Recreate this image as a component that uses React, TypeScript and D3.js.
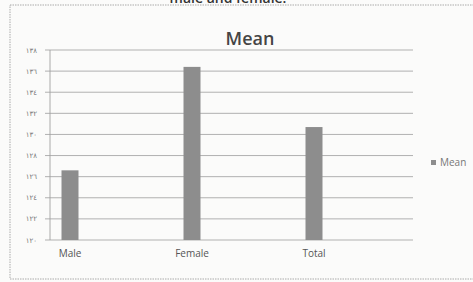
import React, { useRef, useEffect } from 'react';
import * as d3 from 'd3';

const categories = ['Male', 'Female', 'Total'];
const meanValues = [126.6, 136.4, 130.7];
const yTicks = [120, 122, 124, 126, 128, 130, 132, 134, 136, 138];
const seriesName = 'Mean';

const arabicDigits = '٠١٢٣٤٥٦٧٨٩';
const toArabic = (n: number) => String(n).replace(/[0-9]/g, d => arabicDigits[+d]);

export default function App() {
  const svgRef = useRef<SVGSVGElement>(null);

  useEffect(() => {
    const svg = d3.select(svgRef.current);
    const width = 473;
    const height = 282;
    svg.attr('viewBox', `0 0 ${width} ${height}`);
    svg.selectAll('*').remove();

    const font = "'Open Sans', 'Liberation Sans', sans-serif";
    const plot = { left: 50, right: 413, top: 50, bottom: 240 };

    svg.append('rect').attr('width', width).attr('height', height).attr('fill', '#fbfbfa');

    // cut-off caption from the page above the chart
    svg.append('text')
      .attr('x', 228).attr('y', 3)
      .attr('text-anchor', 'middle')
      .attr('font-family', font).attr('font-size', 14).attr('font-weight', 600)
      .attr('fill', '#333')
      .text('male and female.');

    // chart frame
    svg.append('rect')
      .attr('x', 10).attr('y', 5).attr('width', 480).attr('height', 274)
      .attr('fill', 'none').attr('stroke', '#aaa').attr('stroke-width', 1)
      .attr('stroke-dasharray', '1.5,1');

    svg.append('text')
      .attr('x', 250).attr('y', 45)
      .attr('text-anchor', 'middle')
      .attr('font-family', font).attr('font-size', 18).attr('font-weight', 600)
      .attr('fill', '#454545')
      .text('Mean');

    const y = d3.scaleLinear()
      .domain([120, 138])
      .range([plot.bottom, plot.top]);

    const x = d3.scalePoint<string>()
      .domain(categories)
      .range([70, 314]);

    const barWidth = 17;

    // gridlines + tick marks
    const grid = svg.append('g');
    grid.selectAll('line.grid')
      .data(yTicks)
      .join('line')
      .attr('class', 'grid')
      .attr('x1', plot.left - 5).attr('x2', plot.right)
      .attr('y1', d => y(d)).attr('y2', d => y(d))
      .attr('stroke', '#a8a8a8').attr('stroke-width', 0.9);

    svg.append('line')
      .attr('x1', plot.left).attr('x2', plot.left)
      .attr('y1', plot.top).attr('y2', plot.bottom)
      .attr('stroke', '#a0a0a0').attr('stroke-width', 0.9);

    svg.append('g').selectAll('text')
      .data(yTicks)
      .join('text')
      .attr('x', 37).attr('y', d => y(d) + 2.5)
      .attr('text-anchor', 'end')
      .attr('font-family', "'DejaVu Sans', sans-serif").attr('font-size', 7)
      .attr('fill', '#777')
      .text(d => toArabic(d));

    svg.append('g').selectAll('rect')
      .data(meanValues)
      .join('rect')
      .attr('x', (d, i) => (x(categories[i]) ?? 0) - barWidth / 2)
      .attr('width', barWidth)
      .attr('y', d => y(d))
      .attr('height', d => y(120) - y(d))
      .attr('fill', '#8d8d8d');

    svg.append('g').selectAll('text')
      .data(categories)
      .join('text')
      .attr('x', d => x(d) ?? 0).attr('y', 257)
      .attr('text-anchor', 'middle')
      .attr('font-family', font).attr('font-size', 10)
      .attr('fill', '#555')
      .text(d => d);

    // legend
    svg.append('rect')
      .attr('x', 431).attr('y', 160).attr('width', 5).attr('height', 5)
      .attr('fill', '#8d8d8d');
    svg.append('text')
      .attr('x', 440).attr('y', 166)
      .attr('font-family', font).attr('font-size', 10)
      .attr('fill', '#777')
      .text(seriesName);
  }, []);

  return (
    <svg
      ref={svgRef}
      width={473}
      height={282}
      style={{ position: 'absolute', left: 0, top: 0, display: 'block' }}
    />
  );
}
